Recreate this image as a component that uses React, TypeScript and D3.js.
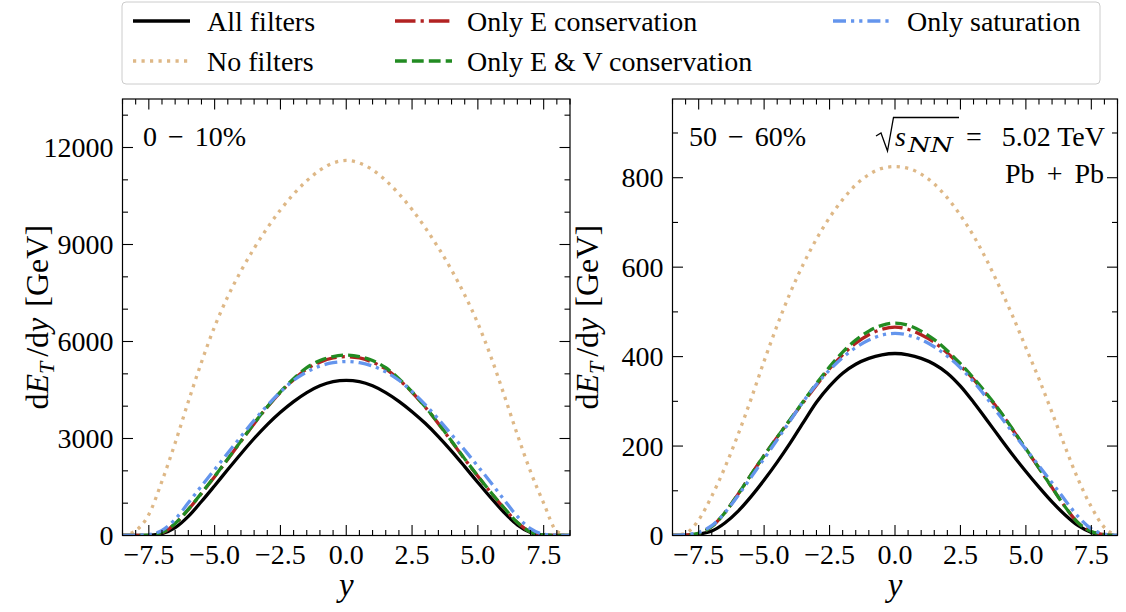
import React from "react";
import * as d3 from "d3";

// ---------- data ----------
const rapidity = [
  -8.5, -8, -7.5, -7, -6.5, -6, -5.5, -5, -4.5, -4, -3.5, -3, -2.5, -2, -1.5, -1, -0.5, 0,
  0.5, 1, 1.5, 2, 2.5, 3, 3.5, 4, 4.5, 5, 5.5, 6, 6.5, 7, 7.5, 8, 8.5,
];

// 0-10 %
const c010AllFilters = [0, 0, 5, 55, 240, 590, 1050, 1540, 2040, 2530, 3000, 3430, 3810, 4140, 4420, 4630, 4760, 4800,
  4760, 4630, 4420, 4150, 3830, 3470, 3060, 2610, 2130, 1640, 1160, 710, 330, 95, 12, 0, 0];
const c010NoFilters = [0, 150, 650, 1680, 2860, 4140, 5360, 6460, 7390, 8180, 8880, 9510, 10070, 10560, 10970, 11300, 11520, 11600,
  11520, 11310, 10980, 10570, 10080, 9520, 8900, 8210, 7440, 6560, 5520, 4340, 3120, 1980, 1000, 130, 0];
const c010OnlyE = [0, 2, 8, 85, 365, 800, 1300, 1820, 2360, 2910, 3460, 3970, 4430, 4820, 5150, 5360, 5490, 5530,
  5490, 5360, 5150, 4820, 4430, 3970, 3460, 2910, 2360, 1830, 1320, 840, 400, 110, 15, 2, 0];
const c010OnlyEV = [0, 2, 8, 90, 370, 810, 1310, 1830, 2370, 2920, 3470, 3980, 4440, 4850, 5190, 5410, 5535, 5580,
  5535, 5410, 5190, 4850, 4440, 3980, 3470, 2920, 2370, 1840, 1330, 850, 400, 110, 15, 2, 0];
const c010OnlySat = [0, 5, 30, 160, 500, 1010, 1530, 2040, 2550, 3060, 3560, 4020, 4440, 4800, 5060, 5240, 5345, 5380,
  5345, 5240, 5060, 4800, 4450, 4050, 3600, 3120, 2640, 2140, 1630, 1100, 590, 210, 40, 8, 0];

// 50-60 %
const c5060AllFilters = [0, 0, 3, 10, 28, 54, 87, 124, 164, 207, 253, 298, 334, 363, 383, 396, 404, 407,
  404, 396, 383, 363, 334, 298, 259, 219, 180, 143, 108, 75, 46, 22, 7, 1, 0];
const c5060NoFilters = [0, 5, 35, 88, 152, 225, 305, 390, 470, 543, 607, 663, 711, 751, 784, 807, 821, 825,
  821, 808, 786, 755, 716, 670, 616, 555, 490, 420, 350, 275, 198, 125, 64, 18, 0];
const c5060OnlyE = [0, 1, 5, 20, 51, 92, 136, 179, 220, 259, 298, 336, 373, 404, 430, 449, 461, 466,
  461, 449, 432, 408, 380, 349, 315, 278, 236, 193, 151, 107, 64, 28, 9, 2, 0];
const c5060OnlyEV = [0, 1, 5, 20, 51, 92, 136, 179, 220, 260, 300, 340, 377, 410, 437, 457, 470, 475,
  470, 457, 438, 413, 384, 352, 317, 279, 237, 194, 151, 107, 64, 28, 9, 2, 0];
const c5060OnlySat = [0, 2, 7, 22, 51, 89, 130, 172, 214, 257, 300, 338, 370, 398, 420, 437, 448, 452,
  448, 438, 422, 401, 375, 344, 308, 268, 230, 193, 156, 118, 79, 42, 15, 3, 0];

const seriesLabels = ["All filters", "No filters", "Only E conservation", "Only E & V conservation", "Only saturation"];

const xMajorTicks = [-7.5, -5, -2.5, 0, 2.5, 5, 7.5];
const xTickLabels = ["\u22127.5", "\u22125.0", "\u22122.5", "0.0", "2.5", "5.0", "7.5"];
const leftYTicks = [0, 3000, 6000, 9000, 12000];
const rightYTicks = [0, 200, 400, 600, 800];

// ---------- styles ----------
const FONT = "'Liberation Serif', 'Times New Roman', serif";
const styles = [
  { color: "#000000", dash: undefined as string | undefined },
  { color: "#deb887", dash: "3.2 5.3" },
  { color: "#b22222", dash: "20.5 5.1 3.2 5.1" },
  { color: "#228b22", dash: "11.8 5.1" },
  { color: "#6495ed", dash: "13 5 3.2 5 3.2 5" },
];
const LW = 3.3;

type Box = { x0: number; x1: number; y0: number; y1: number };

function Panel(props: {
  id: string;
  box: Box;
  yMax: number;
  yTicks: number[];
  yMinorStep: number;
  data: number[][];
  ylabelX: number;
}) {
  const { id, box, yMax, yTicks, yMinorStep, data, ylabelX } = props;
  const x = d3.scaleLinear().domain([-8.5, 8.5]).range([box.x0, box.x1]);
  const y = d3.scaleLinear().domain([0, yMax]).range([box.y1, box.y0]);
  const line = d3
    .line<number>()
    .x((_, i) => x(rapidity[i]))
    .y((d) => y(d))
    .curve(d3.curveMonotoneX);

  const xMinor = d3.range(-8.5, 8.51, 0.5).filter((v) => !xMajorTicks.some((m) => Math.abs(m - v) < 1e-6));
  const yMinor = d3.range(0, yMax, yMinorStep).filter((v) => !yTicks.includes(v));
  const MAJ = 10.5;
  const MIN = 5.5;
  const tickStroke = { stroke: "#000", strokeWidth: 1.1 };

  const cy = (box.y0 + box.y1) / 2;

  return (
    <g>
      <defs>
        <clipPath id={id}>
          <rect x={box.x0} y={box.y0} width={box.x1 - box.x0} height={box.y1 - box.y0} />
        </clipPath>
      </defs>
      <g clipPath={`url(#${id})`}>
        {data.map((vals, k) => (
          <path
            key={k}
            d={line(vals) || ""}
            fill="none"
            stroke={styles[k].color}
            strokeWidth={LW}
            strokeDasharray={styles[k].dash}
            strokeLinecap={styles[k].dash ? "butt" : "square"}
            strokeLinejoin="round"
          />
        ))}
      </g>
      {xMajorTicks.map((t) => (
        <g key={"xm" + t}>
          <line x1={x(t)} x2={x(t)} y1={box.y1} y2={box.y1 - MAJ} {...tickStroke} />
          <line x1={x(t)} x2={x(t)} y1={box.y0} y2={box.y0 + MAJ} {...tickStroke} />
        </g>
      ))}
      {xMinor.map((t) => (
        <g key={"xn" + t}>
          <line x1={x(t)} x2={x(t)} y1={box.y1} y2={box.y1 - MIN} {...tickStroke} />
          <line x1={x(t)} x2={x(t)} y1={box.y0} y2={box.y0 + MIN} {...tickStroke} />
        </g>
      ))}
      {yTicks.map((t) => (
        <g key={"ym" + t}>
          <line x1={box.x0} x2={box.x0 + MAJ} y1={y(t)} y2={y(t)} {...tickStroke} />
          <line x1={box.x1} x2={box.x1 - MAJ} y1={y(t)} y2={y(t)} {...tickStroke} />
        </g>
      ))}
      {yMinor.map((t) => (
        <g key={"yn" + t}>
          <line x1={box.x0} x2={box.x0 + MIN} y1={y(t)} y2={y(t)} {...tickStroke} />
          <line x1={box.x1} x2={box.x1 - MIN} y1={y(t)} y2={y(t)} {...tickStroke} />
        </g>
      ))}
      <rect
        x={box.x0}
        y={box.y0}
        width={box.x1 - box.x0}
        height={box.y1 - box.y0}
        fill="none"
        stroke="#000"
        strokeWidth={1.2}
      />
      {xMajorTicks.map((t, i) => (
        <text key={"xl" + t} x={x(t)} y={564} textAnchor="middle" fontSize={28} fontFamily={FONT}>
          {xTickLabels[i]}
        </text>
      ))}
      {yTicks.map((t) => (
        <text key={"yl" + t} x={box.x0 - 9} y={y(t) + 9.5} textAnchor="end" fontSize={28} fontFamily={FONT}>
          {String(t)}
        </text>
      ))}
      <text x={(box.x0 + box.x1) / 2} y={596} textAnchor="middle" fontSize={33} fontStyle="italic" fontFamily={FONT}>
        y
      </text>
      <text
        transform={`translate(${ylabelX},${cy}) rotate(-90)`}
        textAnchor="middle"
        fontSize={32}
        fontFamily={FONT}
      >
        <tspan>d</tspan>
        <tspan fontStyle="italic">E</tspan>
        <tspan fontStyle="italic" fontSize={22} dy={6}>T</tspan>
        <tspan dy={-6} dx={5}>/d</tspan>
        <tspan fontStyle="italic">y</tspan>
        <tspan dx={3}> [GeV]</tspan>
      </text>
    </g>
  );
}

export default function App() {
  const left: Box = { x0: 122.5, x1: 570, y0: 99, y1: 535.5 };
  const right: Box = { x0: 672.5, x1: 1117.5, y0: 99, y1: 535.5 };

  const legendCols = [
    { hx: 133, tx: 207 },
    { hx: 395, tx: 467 },
    { hx: 833, tx: 907 },
  ];
  const legendRows = [21, 61];
  const legendPos = [
    [0, 0],
    [0, 1],
    [1, 0],
    [1, 1],
    [2, 0],
  ];
  const HL = 57;

  return (
    <svg
      width={1126}
      height={612}
      style={{ position: "fixed", left: 0, top: 0, background: "#fff" }}
      fontFamily={FONT}
    >
      <rect x={0} y={0} width={1126} height={612} fill="#fff" />
      <Panel
        id="clipL"
        box={left}
        yMax={13500}
        yTicks={leftYTicks}
        yMinorStep={1000}
        data={[c010AllFilters, c010NoFilters, c010OnlyE, c010OnlyEV, c010OnlySat]}
        ylabelX={48}
      />
      <Panel
        id="clipR"
        box={right}
        yMax={976}
        yTicks={rightYTicks}
        yMinorStep={100}
        data={[c5060AllFilters, c5060NoFilters, c5060OnlyE, c5060OnlyEV, c5060OnlySat]}
        ylabelX={598}
      />

      {/* panel annotations */}
      <text x={143} y={146} fontSize={28}>
        <tspan>0</tspan>
        <tspan dx={4}> − </tspan>
        <tspan dx={4}>10%</tspan>
      </text>
      <text x={689} y={146} fontSize={28}>
        <tspan>50</tspan>
        <tspan dx={4}> − </tspan>
        <tspan dx={4}>60%</tspan>
      </text>
      <path d="M 876 136 L 881 133 L 887.5 151 L 893.5 117.5 L 959 117.5" fill="none" stroke="#000" strokeWidth={1.3} />
      <text x={895} y={146} fontSize={28} fontStyle="italic">s</text>
      <text
        x={908}
        y={152}
        fontSize={21}
        fontStyle="italic"
        fontFamily="'DejaVu Serif', serif"
        textLength={45}
        lengthAdjust="spacingAndGlyphs"
      >
        NN
      </text>
      <text x={966} y={146} fontSize={28}>=</text>
      <text x={1105} y={146} fontSize={28} textAnchor="end">5.02 TeV</text>
      <text x={1104} y={183} fontSize={28} textAnchor="end">
        <tspan>Pb</tspan>
        <tspan dx={5}> + </tspan>
        <tspan dx={5}>Pb</tspan>
      </text>

      {/* legend */}
      <rect x={122} y={2} width={978} height={82} rx={4} fill="#fff" fillOpacity={0.8} stroke="#cccccc" strokeWidth={1} />
      {seriesLabels.map((lab, k) => {
        const [c, r] = legendPos[k];
        const yy = legendRows[r];
        const col = legendCols[c];
        return (
          <g key={lab}>
            <line
              x1={col.hx}
              x2={col.hx + HL}
              y1={yy}
              y2={yy}
              stroke={styles[k].color}
              strokeWidth={LW}
              strokeDasharray={styles[k].dash}
            />
            <text x={col.tx} y={yy + 9.5} fontSize={28}>
              {lab}
            </text>
          </g>
        );
      })}
    </svg>
  );
}
